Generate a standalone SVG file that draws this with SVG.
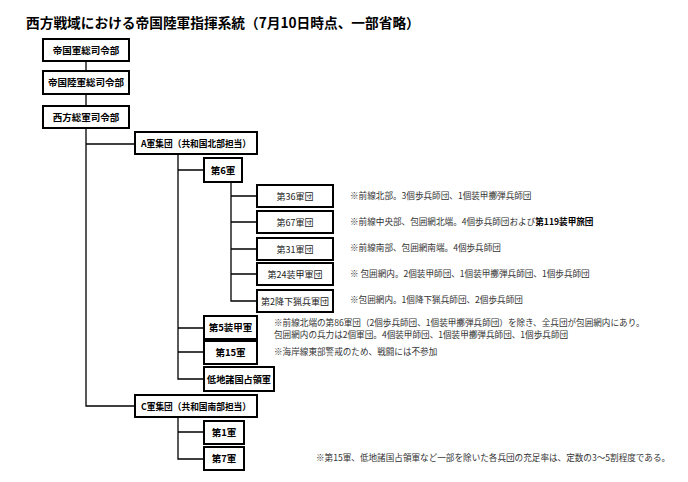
<svg xmlns="http://www.w3.org/2000/svg" width="688" height="482" viewBox="0 0 688 482">
<style>
.bx{fill:#fff;stroke:#000;stroke-width:2}
.lb{font-family:"Noto Sans CJK JP","Noto Sans",sans-serif;font-size:9.5px;font-weight:bold;fill:#000;text-anchor:middle}
.lr{font-family:"Noto Sans CJK JP","Noto Sans",sans-serif;font-size:9px;fill:#222;text-anchor:middle}
.nt{font-family:"Noto Sans CJK JP","Noto Sans",sans-serif;font-size:8.6px;fill:#333}
.ttl{font-family:"Noto Sans CJK JP","Noto Sans",sans-serif;font-size:13.7px;font-weight:bold;fill:#000}
.cn{fill:none;stroke:#000;stroke-width:1.3}
</style>
<rect width="688" height="482" fill="#fff"/>
<text class="ttl" x="26" y="28">西方戦域における帝国陸軍指揮系統（7月10日時点、一部省略）</text>
<g id="connectors">
<path class="cn" d="M86 61V71M86 94V106M86 128V406H135M86 144H135"/>
<path class="cn" d="M178 154V379H204M178 170H204M178 328H204M178 352H204"/>
<path class="cn" d="M231 182V301H257M231 196H257M231 222H257M231 249H257M231 274H257"/>
<path class="cn" d="M178 417V459H204M178 432H204"/>
</g>
<g id="n1"><rect class="bx" x="43" y="39" width="86" height="22"/><text class="lb" x="86" y="53.5">帝国軍総司令部</text></g>
<g id="n2"><rect class="bx" x="43" y="71" width="86" height="23"/><text class="lb" x="86" y="86">帝国陸軍総司令部</text></g>
<g id="n3"><rect class="bx" x="43" y="106" width="86" height="22"/><text class="lb" x="86" y="120.5">西方総軍司令部</text></g>
<g id="nA"><rect class="bx" x="135" y="132" width="122" height="22"/><text class="lb" x="196" y="146.5" textLength="110" lengthAdjust="spacingAndGlyphs">A軍集団（共和国北部担当）</text></g>
<g id="n6"><rect class="bx" x="204" y="158" width="38" height="24"/><text class="lb" x="223" y="173.5">第6軍</text></g>
<g id="n36"><rect class="bx" x="257" y="185" width="76" height="22"/><text class="lr" x="295" y="199.5">第36軍団</text></g>
<g id="n67"><rect class="bx" x="257" y="211" width="76" height="22"/><text class="lr" x="295" y="225.5">第67軍団</text></g>
<g id="n31"><rect class="bx" x="257" y="238" width="76" height="22"/><text class="lr" x="295" y="252.5">第31軍団</text></g>
<g id="n24"><rect class="bx" x="257" y="263" width="76" height="22"/><text class="lr" x="295" y="277.5">第24装甲軍団</text></g>
<g id="n2p"><rect class="bx" x="257" y="290" width="76" height="22"/><text class="lr" x="295" y="304.5">第2降下猟兵軍団</text></g>
<g id="n5"><rect class="bx" x="204" y="316" width="53" height="23"/><text class="lb" x="230.5" y="331">第5装甲軍</text></g>
<g id="n15"><rect class="bx" x="204" y="341" width="53" height="23"/><text class="lb" x="230.5" y="356">第15軍</text></g>
<g id="nL"><rect class="bx" x="204" y="367" width="70" height="24"/><text class="lb" x="239" y="382.5" textLength="64" lengthAdjust="spacingAndGlyphs">低地諸国占領軍</text></g>
<g id="nC"><rect class="bx" x="135" y="395" width="122" height="22"/><text class="lb" x="196" y="409.5" textLength="110" lengthAdjust="spacingAndGlyphs">C軍集団（共和国南部担当）</text></g>
<g id="nc1"><rect class="bx" x="204" y="421" width="40" height="23"/><text class="lb" x="224" y="436">第1軍</text></g>
<g id="nc7"><rect class="bx" x="204" y="447" width="40" height="23"/><text class="lb" x="224" y="462">第7軍</text></g>
<g id="notes">
<text class="nt" x="350" y="199">※前線北部。3個歩兵師団、1個装甲擲弾兵師団</text>
<text class="nt" x="350" y="225">※前線中央部、包囲網北端。4個歩兵師団および<tspan font-weight="bold" fill="#000">第119装甲旅団</tspan></text>
<text class="nt" x="350" y="251">※前線南部、包囲網南端。4個歩兵師団</text>
<text class="nt" x="350" y="277">※ 包囲網内。2個装甲師団、1個装甲擲弾兵師団、1個歩兵師団</text>
<text class="nt" x="350" y="303">※包囲網内。1個降下猟兵師団、2個歩兵師団</text>
<text class="nt" x="274" y="326">※前線北端の第86軍団（2個歩兵師団、1個装甲擲弾兵師団）を除き、全兵団が包囲網内にあり。</text>
<text class="nt" x="274" y="338">包囲網内の兵力は2個軍団。4個装甲師団、1個装甲擲弾兵師団、1個歩兵師団</text>
<text class="nt" x="274" y="355">※海岸線東部警戒のため、戦闘には不参加</text>
<text class="nt" x="316" y="461">※第15軍、低地諸国占領軍など一部を除いた各兵団の充足率は、定数の3～5割程度である。</text>
</g>
</svg>
